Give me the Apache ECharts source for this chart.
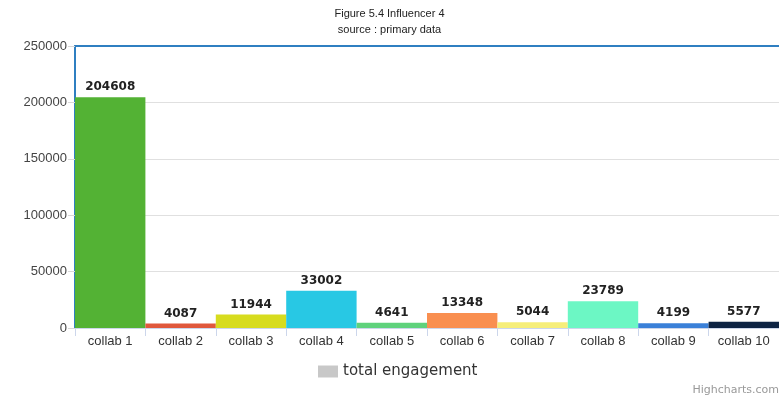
<!DOCTYPE html>
<html><head><meta charset="utf-8">
<script src="https://cdn.jsdelivr.net/npm/echarts@6/dist/echarts.min.js"></script>
<style>html,body{margin:0;padding:0;background:#fff}#c{width:779px;height:397px}</style>
</head><body><div id="c"></div>
<script>
const categories = ['collab 1','collab 2','collab 3','collab 4','collab 5','collab 6','collab 7','collab 8','collab 9','collab 10'];
const engagement = [204608, 4087, 11944, 33002, 4641, 13348, 5044, 23789, 4199, 5577];
const barColors = ['#53b234','#e0583c','#d7dc1e','#28c8e4','#5fd27c','#f98f50','#f6ee7a','#6cf7c4','#3a80d8','#0d2444'];
const yTicks = [0, 50000, 100000, 150000, 200000, 250000];

const chart = echarts.init(document.getElementById('c'), null, {renderer:'canvas'});
chart.setOption({
  animation:false,
  title:{
    text:'Figure 5.4 Influencer 4', subtext:'source : primary data',
    left:'center', top:3, itemGap:5,
    textStyle:{fontFamily:'Liberation Sans',fontSize:11,fontWeight:'normal',color:'#222'},
    subtextStyle:{fontFamily:'Liberation Sans',fontSize:11,color:'#222'}
  },
  grid:{left:75, right:-7, top:46, bottom:69, containLabel:false},
  legend:{
    bottom:13, left:313, itemWidth:20, itemHeight:12, itemGap:9,
    textStyle:{fontFamily:'DejaVu Sans',fontSize:15,color:'#333'},
    data:[{name:'total engagement', icon:'rect', itemStyle:{color:'#c8c8c8'}}]
  },
  graphic:[{type:'text', right:0, bottom:1, style:{text:'Highcharts.com', fill:'#999', font:'11px "DejaVu Sans"'}}],
  xAxis:[{
    type:'category', data:categories,
    axisLine:{lineStyle:{color:'#ccd6eb',width:1}},
    axisTick:{show:true,length:8,lineStyle:{color:'#ccd6eb'}},
    axisLabel:{fontFamily:'Liberation Sans',fontSize:13,color:'#333',margin:7}
  },{
    type:'category', data:categories, position:'top',
    axisLine:{show:true,lineStyle:{color:'#2f7fc1',width:2}},
    axisTick:{show:false}, axisLabel:{show:false}
  }],
  yAxis:{
    type:'value', min:0, max:250000, interval:50000,
    axisLine:{show:true,lineStyle:{color:'#2f7fc1',width:2}},
    axisTick:{show:true,length:7,lineStyle:{color:'#d8d8d8'}},
    splitLine:{lineStyle:{color:'#e0e0e0'}},
    axisLabel:{fontFamily:'Liberation Sans',fontSize:13,color:'#444',margin:8,
      formatter:v=>yTicks.includes(v)?String(v):''}
  },
  series:[{
    name:'total engagement', type:'bar', barCategoryGap:'0%',
    itemStyle:{color:'#c8c8c8'},
    data:engagement.map((v,i)=>({value:v,itemStyle:{color:barColors[i]}})),
    label:{show:true,position:'top',distance:4,
      fontFamily:'DejaVu Sans',fontSize:12,fontWeight:'bold',color:'#222'}
  }]
});
</script></body></html>
